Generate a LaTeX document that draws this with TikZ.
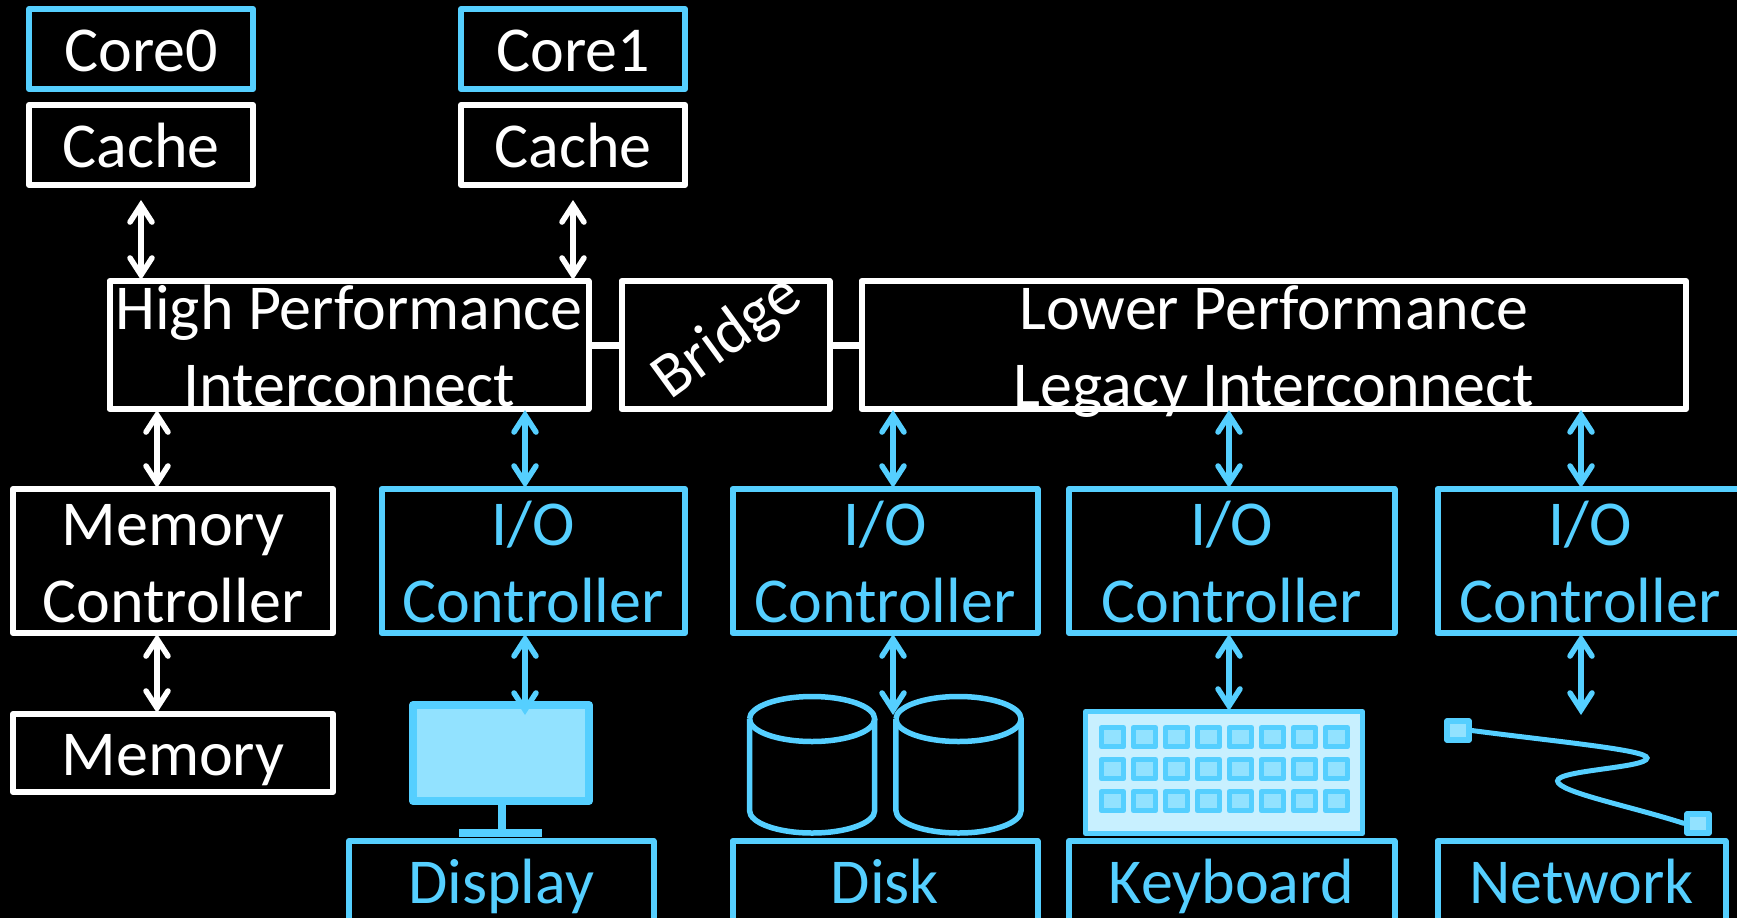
\documentclass[tikz,border=0pt]{standalone}
\usepackage{fontspec}
\setmainfont{Carlito}
\usetikzlibrary{arrows.meta}
\definecolor{skyb}{HTML}{55CFFF}
\definecolor{skyl}{HTML}{92E2FF}
\definecolor{skyp}{HTML}{C8F0FF}
\newcommand\tb[2]{\raisebox{-#1pt}[0pt][0pt]{\begin{tabular}[b]{@{}c@{}}#2\end{tabular}}}
\tikzset{
  headtip/.tip={Straight Barb[length=17pt,width=22pt,line width=5.5pt,line cap=round,line join=miter]},
  basebox/.style={rectangle,inner sep=0pt,line join=round,line width=6pt,font=\fontsize{64}{77}\selectfont},
  wbox/.style={basebox,draw=white,text=white},
  bbox/.style={basebox,draw=skyb,text=skyb},
  cbox/.style={basebox,draw=skyb,text=white},
  link/.style={draw=white,line width=7pt},
  warr/.style={draw=white,line width=5.3pt,headtip-headtip,shorten >=-2pt,shorten <=-2pt},
  barr/.style={draw=skyb,line width=5.3pt,headtip-headtip,shorten >=-2pt,shorten <=-2pt},
  keycap/.style={rectangle,inner sep=0pt,draw=skyb,fill=skyl,line width=5.5pt,line join=round,minimum width=22pt,minimum height=19pt},
  cyl/.style={draw=skyb,line width=5.5pt},
}
\begin{document}
\begin{tikzpicture}[x=1pt,y=-1pt]
\useasboundingbox (0,0) rectangle (1737,918);
\fill[black] (0,0) rectangle (1737,918);
\clip (0,0) rectangle (1737,918);
% top
\node[cbox,minimum width=224pt,minimum height=80pt] (core0) at (141,49) {\tb{22}{Core0}};
\node[wbox,minimum width=224pt,minimum height=80pt] (cache0) at (141,145) {\tb{22}{Cache}};
\node[cbox,minimum width=224pt,minimum height=80pt] (core1) at (573,49) {\tb{22}{Core1}};
\node[wbox,minimum width=224pt,minimum height=80pt] (cache1) at (573,145) {\tb{22}{Cache}};
% interconnect
\node[wbox,minimum width=479pt,minimum height=128pt] (hp) at (349,345) {\tb{61}{High Performance\\Interconnect}};
\node[wbox,minimum width=208pt,minimum height=128pt] (bridge) at (725.5,345) {};
\node[text=white,inner sep=0pt,rotate=36,font=\fontsize{64}{77}\selectfont] (bridgetext) at (728,338) {Bridge};
\node[wbox,minimum width=824.5pt,minimum height=128pt] (lp) at (1273.75,345) {\tb{61}{Lower Performance\\Legacy Interconnect}};
\draw[link] (hp) -- (bridge);
\draw[link] (bridge) -- (lp);
% controllers
\node[wbox,minimum width=320pt,minimum height=144pt] (mc) at (173,561) {\tb{61}{Memory\\Controller}};
\node[bbox,minimum width=303.5pt,minimum height=144pt] (io1) at (533.25,561) {\tb{61}{I/O\\Controller}};
\node[bbox,minimum width=305pt,minimum height=144pt] (io2) at (885,561) {\tb{61}{I/O\\Controller}};
\node[bbox,minimum width=325.5pt,minimum height=144pt] (io3) at (1231.75,561) {\tb{61}{I/O\\Controller}};
\node[bbox,minimum width=305pt,minimum height=144pt] (io4) at (1590,561) {\tb{61}{I/O\\Controller}};
% bottom row
\node[wbox,minimum width=320pt,minimum height=78pt] (mem) at (173,753) {\tb{22}{Memory}};
\node[bbox,minimum width=304.5pt,minimum height=120pt] (display) at (501.25,901) {\tb{2}{Display}};
\node[bbox,minimum width=305pt,minimum height=120pt] (disk) at (885,901) {\tb{2}{Disk}};
\node[bbox,minimum width=325.5pt,minimum height=120pt] (kbdlabel) at (1231.75,901) {\tb{2}{Keyboard}};
\node[bbox,minimum width=288pt,minimum height=120pt] (net) at (1581.5,901) {\tb{2}{Network}};
% monitor
\node[rectangle,inner sep=0pt,draw=skyb,fill=skyl,line width=8pt,line join=round,minimum width=176pt,minimum height=96pt] (monitor) at (501,753) {};
\fill[skyb] (497.5,805) rectangle (505.7,829);
\fill[skyb] (458.5,829) rectangle (541.6,837);
% disks
\draw[cyl] (749.5,719) arc[x radius=62.6,y radius=22.5,start angle=180,end angle=-180];
\draw[cyl] (749.5,719) -- (749.5,810.5) arc[x radius=62.6,y radius=22.5,start angle=180,end angle=0] -- (874.7,719);
\draw[cyl] (895.9,719) arc[x radius=62.6,y radius=22.5,start angle=180,end angle=-180];
\draw[cyl] (895.9,719) -- (895.9,810.5) arc[x radius=62.6,y radius=22.5,start angle=180,end angle=0] -- (1021.1,719);
% keyboard
\node[rectangle,inner sep=0pt,draw=skyb,fill=skyp,line width=5pt,line join=round,minimum width=277pt,minimum height=122pt] (kbd) at (1224,772.5) {};
\foreach \r/\yy in {1/737.2,2/769.2,3/801.2}
  \foreach \c in {0,...,7}
    \node[keycap] (key\r\c) at ({1112.4+32*\c},\yy) {};
% cable
\node[keycap] (plugA) at (1458,730.5) {};
\node[keycap] (plugB) at (1698,823.5) {};
\draw[draw=skyb,line width=5pt] (plugA.east) .. controls (1560,742) and (1647,750) .. (1647,758) .. controls (1647,768) and (1557,770) .. (1557.5,781) .. controls (1558,792) and (1630,806) .. (plugB.west);
% free-end coordinates
\coordinate (xa) at (157,0);
\coordinate (xb) at (525,0);
\coordinate (xc) at (893,0);
\coordinate (xd) at (1229,0);
\coordinate (xe) at (1581,0);
\coordinate (dtip) at (525,713);
\coordinate (ktip) at (893,713);
\coordinate (ntip) at (1581,713);
% arrows
\draw[warr,shorten <=12pt] (cache0.south) -- (hp.north -| cache0.south);
\draw[warr,shorten <=12pt] (cache1.south) -- (hp.north -| cache1.south);
\draw[warr] (hp.south -| xa) -- (mc.north -| xa);
\draw[barr] (hp.south -| xb) -- (io1.north -| xb);
\draw[barr] (lp.south -| xc) -- (io2.north -| xc);
\draw[barr] (lp.south -| xd) -- (io3.north -| xd);
\draw[barr] (lp.south -| xe) -- (io4.north -| xe);
\draw[warr] (mc.south -| xa) -- (mem.north -| xa);
\draw[barr] (io1.south -| xb) -- (dtip);
\draw[barr] (io2.south -| xc) -- (ktip);
\draw[barr] (io3.south -| xd) -- (kbd.north -| xd);
\draw[barr] (io4.south -| xe) -- (ntip);
\end{tikzpicture}
\end{document}
